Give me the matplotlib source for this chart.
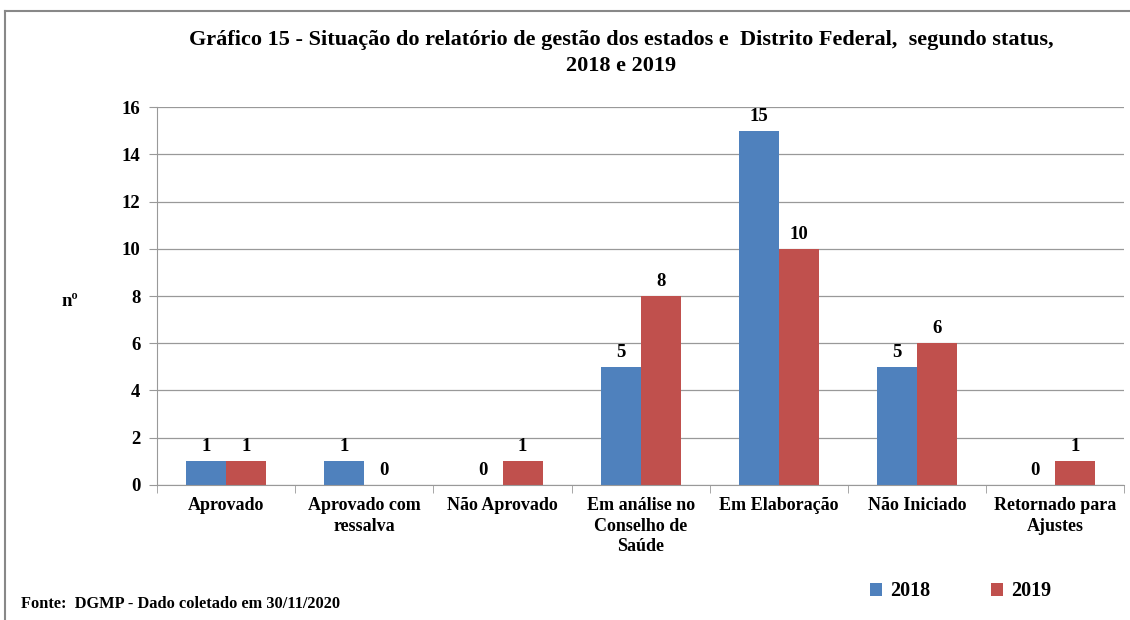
import numpy as np
import matplotlib.pyplot as plt
from matplotlib.lines import Line2D

categorias = ["Aprovado", "Aprovado com\nressalva", "Não Aprovado",
              "Em análise no\nConselho de\nSaúde", "Em Elaboração",
              "Não Iniciado", "Retornado para\nAjustes"]
v2018 = [1, 1, 0, 5, 15, 5, 0]
v2019 = [1, 0, 1, 8, 10, 6, 1]
anos = ["2018", "2019"]

plt.rcParams['font.family'] = ['Liberation Serif', 'DejaVu Serif']
plt.rcParams['font.weight'] = 'bold'

azul = "#4f81bd"
vermelho = "#c0504d"

fig = plt.figure(figsize=(11.3, 6.2), dpi=100)
# moldura (só topo e esquerda aparecem no recorte)
fig.lines.append(Line2D([0.0045, 1.0], [0.982, 0.982], transform=fig.transFigure,
                        color="#888888", linewidth=1.5))
fig.lines.append(Line2D([0.0045, 0.0045], [0.0, 0.982], transform=fig.transFigure,
                        color="#888888", linewidth=1.5))
ax = fig.add_axes([0.139, 0.218, 0.856, 0.609])

x = np.arange(len(categorias))
w = 0.29
b1 = ax.bar(x - w / 2, v2018, w, color=azul, label=anos[0])
b2 = ax.bar(x + w / 2, v2019, w, color=vermelho, label=anos[1])

for barras, vals in [(b1, v2018), (b2, v2019)]:
    for b, v in zip(barras, vals):
        ax.annotate(str(v), (b.get_x() + b.get_width() / 2, v), xytext=(0, 4.5),
                    textcoords="offset points", ha="center", va="bottom",
                    fontsize=13.5, fontweight="bold")

ax.set_ylim(0, 16)
ax.set_yticks(range(0, 17, 2))
ax.set_xlim(-0.5, len(categorias) - 0.5)
ax.set_xticks(x)
ax.set_xticklabels(categorias, fontsize=13, fontweight="bold", va="top", linespacing=1.25)
ax.set_xticks(np.arange(-0.5, len(categorias)), minor=True)
ax.tick_params(axis="x", which="major", length=0, pad=9)
ax.tick_params(axis="x", which="minor", length=6, color="#999999")
ax.tick_params(axis="y", labelsize=13.5, length=6, color="#999999", pad=6)
for t in ax.get_yticklabels():
    t.set_fontweight("bold")

ax.grid(axis="y", color="#999999", linewidth=0.9)
ax.set_axisbelow(True)
for s in ["top", "right"]:
    ax.spines[s].set_visible(False)
ax.spines["left"].set_color("#999999")
ax.spines["bottom"].set_color("#999999")

ax.text(-0.09, 0.485, "nº", transform=ax.transAxes, fontsize=13.5, fontweight="bold",
        ha="center", va="center")

fig.text(0.55, 0.914, "Gráfico 15 - Situação do relatório de gestão dos estados e  Distrito Federal,  segundo status,\n2018 e 2019",
         ha="center", va="center", fontsize=16, fontweight="bold", linespacing=1.4)
fig.text(0.019, 0.026, "Fonte:  DGMP - Dado coletado em 30/11/2020", fontsize=11.8,
         fontweight="bold", ha="left", va="center")

fig.legend(handles=[b1, b2], labels=anos, loc="center", bbox_to_anchor=(0.85, 0.046),
           ncol=2, frameon=False, handlelength=0.6, handleheight=0.6,
           columnspacing=3.0, handletextpad=0.4, prop={"weight": "bold", "size": 14.5})

fig.savefig("out.png", dpi=100)
